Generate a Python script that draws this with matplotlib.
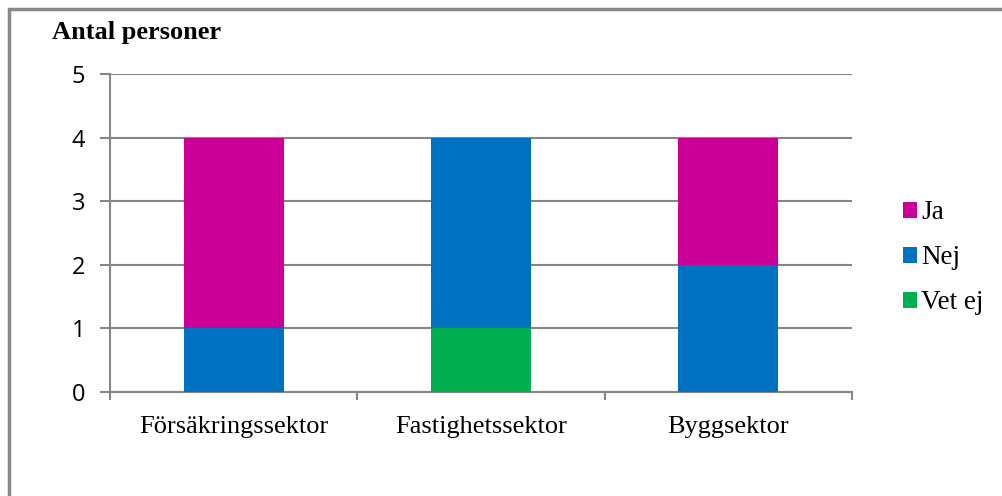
import numpy as np
import matplotlib.pyplot as plt
from matplotlib.patches import Rectangle

# Antal personer per sektor och svar
sektorer = ["Försäkringssektor", "Fastighetssektor", "Byggsektor"]
vet_ej = [0, 1, 0]
nej = [1, 3, 2]
ja = [3, 0, 2]

farg_ja = "#CC0099"
farg_nej = "#0070C0"
farg_vet_ej = "#00B050"
gra = "#868686"

fig = plt.figure(figsize=(10.02, 4.96), dpi=100)
ax = fig.add_axes([0.1098, 0.2097, 0.7405, 0.6411])

x = np.arange(len(sektorer))
bredd = 0.405
bas = np.zeros(len(sektorer))

b1 = ax.bar(x, vet_ej, bredd, bottom=bas, color=farg_vet_ej, label="Vet ej", zorder=3)
bas = bas + np.array(vet_ej)
b2 = ax.bar(x, nej, bredd, bottom=bas, color=farg_nej, label="Nej", zorder=3)
bas = bas + np.array(nej)
b3 = ax.bar(x, ja, bredd, bottom=bas, color=farg_ja, label="Ja", zorder=3)

ax.set_xlim(-0.5, len(sektorer) - 0.5)
ax.set_ylim(0, 5)
ax.set_yticks(range(0, 6))
ax.yaxis.grid(True, color=gra, linewidth=1.5, zorder=0)

# kategorigränser som tickmarkeringar
ax.set_xticks(np.arange(-0.5, len(sektorer), 1.0))
ax.set_xticklabels([])
ax.set_xticks(x, minor=True)
ax.set_xticklabels(sektorer, minor=True, fontfamily="Liberation Serif", fontsize=19)
ax.tick_params(axis="x", which="minor", length=0, pad=17.5)
ax.tick_params(axis="x", which="major", length=6, width=1.5, color=gra, direction="out")
ax.tick_params(axis="y", length=7, width=1.5, color=gra, direction="out", pad=11,
               labelsize=17)
for lbl in ax.get_yticklabels():
    lbl.set_fontfamily("Open Sans")

for side in ["top", "right"]:
    ax.spines[side].set_visible(False)
for side in ["left", "bottom"]:
    ax.spines[side].set_color(gra)
    ax.spines[side].set_linewidth(1.5)

fig.text(0.052, 0.935, "Antal personer", fontfamily="Liberation Serif",
         fontweight="bold", fontsize=19, va="center", ha="left")

fig.legend(handles=[b3, b2, b1], labels=["Ja", "Nej", "Vet ej"],
           loc="center left", bbox_to_anchor=(0.890, 0.480), frameon=False,
           prop={"family": "Liberation Serif", "size": 19.5},
           handlelength=0.53, handleheight=0.53, handletextpad=0.15,
           labelspacing=0.74, borderaxespad=0)

# yttre ram
fig.patches.append(Rectangle((9 / 1002, -0.1), 1.1, 1.1 - 9 / 496,
                             transform=fig.transFigure, fill=False,
                             edgecolor="#888888", linewidth=2.5))

fig.savefig("out.png", dpi=100)
